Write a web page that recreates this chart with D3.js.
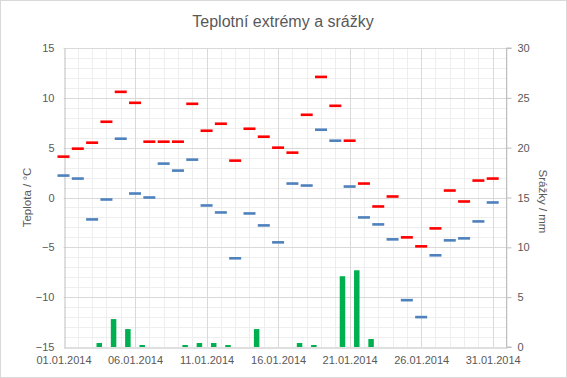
<!DOCTYPE html>
<html>
<head>
<meta charset="utf-8">
<script src="https://cdn.jsdelivr.net/npm/d3@7"></script>
<style>
  body { margin: 0; background: #fff; }
  svg { display: block; font-family: "Liberation Sans", Arial, sans-serif; }
  .tick text { fill: #595959; font-size: 11px; }
  .axis-title { fill: #595959; font-size: 11.5px; }
  .title { fill: #595959; font-size: 16px; }
</style>
</head>
<body>
<div id="chart"></div>
<script>
// Daily data for January 2014
const days = d3.range(1, 32);
const tempMax = [4.1, 4.9, 5.5, 7.6, 10.6, 9.5, 5.6, 5.6, 5.6, 9.4, 6.7, 7.4, 3.7, 6.9, 6.1, 5.0,
  4.5, 8.3, 12.1, 9.2, 5.7, 1.4, -0.9, 0.1, -4.0, -4.9, -3.1, 0.7, -0.4, 1.7, 1.9];
const tempMin = [2.2, 1.9, -2.2, -0.2, 5.9, 0.4, 0.0, 3.4, 2.7, 3.8, -0.8, -1.5, -6.1, -1.6, -2.8, -4.5,
  1.4, 1.2, 6.8, 5.7, 1.1, -2.0, -2.7, -4.2, -10.3, -12.0, -5.8, -4.3, -4.1, -2.4, -0.5];
const precip = [0, 0, 0.4, 2.8, 1.8, 0.2, 0, 0, 0.2, 0.4, 0.4, 0.2, 0, 1.8, 0, 0,
  0.4, 0.2, 0, 7.1, 7.7, 0.8, 0, 0, 0, 0, 0, 0, 0, 0, 0];
const tempTicks = [-15, -10, -5, 0, 5, 10, 15];
const precipTicks = [0, 5, 10, 15, 20, 25, 30];
const labelDays = [1, 6, 11, 16, 21, 26, 31];

const width = 567, height = 378;
const plot = { left: 63.5, right: 507, top: 48, bottom: 347 };

const svg = d3.select('#chart').append('svg')
  .attr('width', width)
  .attr('height', height);

// chart frame
svg.append('rect')
  .attr('x', 0.5).attr('y', 0.5)
  .attr('width', width - 1).attr('height', height - 1)
  .attr('fill', '#fff')
  .attr('stroke', '#d9d9d9');

const date = d => new Date(2014, 0, d);
const x = d3.scaleTime()
  .domain([date(1), date(32)])
  .range([plot.left, plot.right]);

const yTemp = d3.scaleLinear().domain([-15, 15]).range([plot.bottom, plot.top]);
const yRain = d3.scaleLinear().domain([0, 30]).range([plot.bottom, plot.top]);

// minor gridlines
const grid = svg.append('g');
grid.selectAll('.vminor')
  .data(d3.range(1, 33).filter(d => (d - 1) % 5 !== 0))
  .join('line')
  .attr('x1', d => Math.round(x(date(d))) + 0.5)
  .attr('x2', d => Math.round(x(date(d))) + 0.5)
  .attr('y1', plot.top).attr('y2', plot.bottom)
  .attr('stroke', '#eeeeee');
grid.selectAll('.hminor')
  .data(d3.range(-15, 16).filter(d => d % 5 !== 0))
  .join('line')
  .attr('x1', plot.left).attr('x2', plot.right)
  .attr('y1', d => Math.round(yTemp(d)) + 0.5)
  .attr('y2', d => Math.round(yTemp(d)) + 0.5)
  .attr('stroke', '#eeeeee');

// major gridlines
grid.selectAll('.vmajor')
  .data(labelDays.slice(1))
  .join('line')
  .attr('x1', d => Math.round(x(date(d))) + 0.5)
  .attr('x2', d => Math.round(x(date(d))) + 0.5)
  .attr('y1', plot.top).attr('y2', plot.bottom)
  .attr('stroke', '#d9d9d9');
grid.selectAll('.hmajor')
  .data(tempTicks.slice(1))
  .join('line')
  .attr('x1', plot.left).attr('x2', plot.right)
  .attr('y1', d => Math.round(yTemp(d)) + 0.5)
  .attr('y2', d => Math.round(yTemp(d)) + 0.5)
  .attr('stroke', '#d9d9d9');

// axes
const leftAxis = svg.append('g')
  .attr('transform', `translate(${Math.round(plot.left) + 0.5},0)`)
  .call(d3.axisLeft(yTemp).tickValues(tempTicks).tickSize(0).tickPadding(10));
const rightAxis = svg.append('g')
  .attr('transform', `translate(${Math.round(plot.right) - 0.5},0)`)
  .call(d3.axisRight(yRain).tickValues(precipTicks).tickSize(5).tickPadding(6));
const bottomAxis = svg.append('g')
  .attr('transform', `translate(0,${Math.round(plot.bottom) + 0.5})`)
  .call(d3.axisBottom(x).tickValues(labelDays.map(date)).tickSize(0).tickPadding(9)
    .tickFormat(d3.timeFormat('%d.%m.%Y')));

[leftAxis, rightAxis, bottomAxis].forEach(a => {
  a.select('.domain').attr('stroke', '#bfbfbf');
  a.selectAll('.tick line').attr('stroke', '#bfbfbf');
  a.selectAll('.tick text').style('font-family', '"Liberation Sans", Arial, sans-serif');
});
rightAxis.select('.domain').attr('d', `M5,${plot.top}H0V${plot.bottom}H5`);

// precipitation bars
const barW = 5.5;
svg.append('g').selectAll('rect')
  .data(days.filter((d, i) => precip[i] > 0))
  .join('rect')
  .attr('x', d => x(new Date(2014, 0, d, 12)) - barW / 2)
  .attr('y', d => yRain(precip[d - 1]))
  .attr('width', barW)
  .attr('height', d => yRain(0) - yRain(precip[d - 1]))
  .attr('fill', '#00b050');

// temperature dashes
const dashW = 12, dashH = 2.6;
function drawDashes(values, color) {
  svg.append('g').selectAll('rect')
    .data(days)
    .join('rect')
    .attr('x', d => x(date(d)) - dashW / 2)
    .attr('y', d => yTemp(values[d - 1]) - dashH / 2)
    .attr('width', dashW)
    .attr('height', dashH)
    .attr('fill', color);
}
drawDashes(tempMin, '#4f81bd');
drawDashes(tempMax, '#ff0000');

// titles
svg.append('text')
  .attr('class', 'title')
  .attr('x', 283).attr('y', 27)
  .attr('text-anchor', 'middle')
  .text('Teplotní extrémy a srážky');

svg.append('text')
  .attr('class', 'axis-title')
  .attr('transform', `translate(31,${(plot.top + plot.bottom) / 2}) rotate(-90)`)
  .attr('text-anchor', 'middle')
  .text('Teplota / °C');

svg.append('text')
  .attr('class', 'axis-title')
  .attr('transform', `translate(539,${(plot.top + plot.bottom) / 2 + 4}) rotate(90)`)
  .attr('text-anchor', 'middle')
  .text('Srážky / mm');
</script>
</body>
</html>
